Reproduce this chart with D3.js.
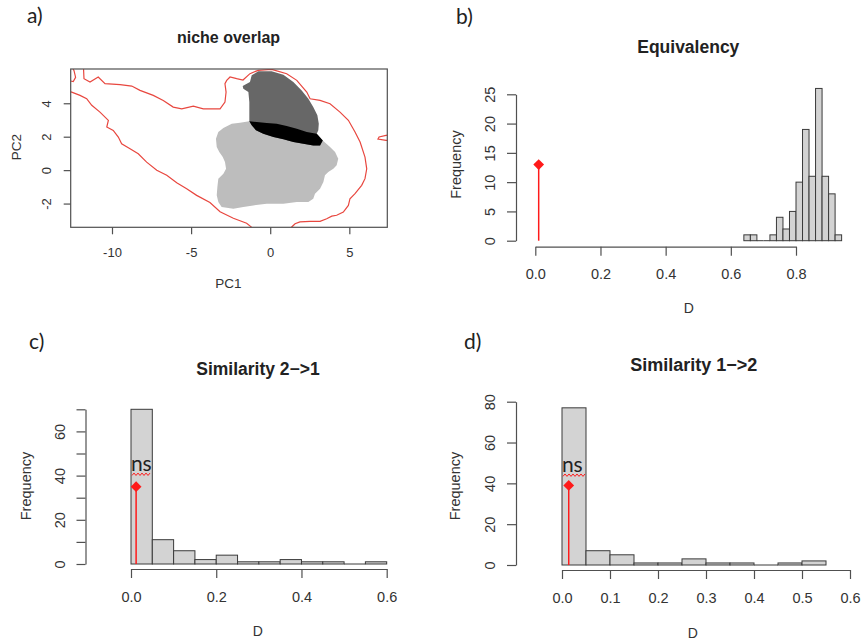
<!DOCTYPE html>
<html>
<head>
<meta charset="utf-8">
<script src="https://cdn.jsdelivr.net/npm/d3@7"></script>
<style>
  body { margin: 0; background: #fff; }
  svg { display: block; font-family: "Liberation Sans", Arial, sans-serif; }
</style>
</head>
<body>
<svg id="fig" width="862" height="640"></svg>
<script>
// ---------------- data ----------------
// a) niche overlap in PC space (polygons as [PC1, PC2])
const envContourUpper = [[-11.81,6.3],[-11.77,5.47],[-11.39,5.27],[-10.87,5.57],[-10.44,5.17],[-9.49,5.11],
  [-8.75,5.03],[-8.23,4.77],[-7.39,4.47],[-6.76,4.17],[-6.13,3.77],[-5.59,3.67],[-4.86,3.83],[-4.23,3.67],
  [-3.60,3.67],[-3.17,3.67],[-2.86,4.07],[-2.79,4.67],[-2.86,5.17],[-2.75,5.37],[-2.54,5.57],[-2.12,5.47],
  [-1.72,5.39],[-1.28,5.77],[-0.77,5.97],[0.09,6.03],[1.04,5.77],[1.68,5.37],[2.31,4.67],[2.52,4.27],
  [3.15,4.17],[3.78,3.97],[4.41,3.47],[4.94,2.98],[5.36,2.28],[5.68,1.68],[5.99,0.78],[6.10,0.08],
  [5.99,-0.51],[5.78,-0.91],[5.36,-1.41],[5.04,-1.71],[4.94,-2.11],[4.62,-2.51],[4.20,-2.70],[3.89,-2.75],
  [3.57,-2.91],[3.15,-3.06],[2.52,-3.06],[1.88,-3.10],[1.57,-3.21],[1.36,-3.40],[1.19,-3.70]];
const envContourLower = [[-12.97,4.79],[-12.55,4.67],[-12.02,4.47],[-11.60,4.27],[-11.28,3.88],[-10.76,3.47],
  [-10.23,2.98],[-10.33,2.58],[-9.92,2.38],[-9.60,1.98],[-9.39,1.58],[-8.86,1.28],[-8.34,0.98],[-7.81,0.48],
  [-7.17,-0.01],[-6.54,-0.31],[-5.91,-0.75],[-5.28,-1.11],[-4.65,-1.51],[-3.81,-1.94],[-3.17,-2.49],
  [-2.33,-2.88],[-1.49,-3.18],[-1.17,-3.42],[-0.96,-3.70]];
const envContourCorner = [[-12.53,6.2],[-12.40,5.95],[-12.30,5.55],[-12.45,5.30],[-12.62,5.33]];
const envContourEdge = [[7.57,2.10],[7.32,2.08],[6.88,1.98],[6.81,1.86],[7.32,1.78],[7.57,1.77]];

const species1Niche = [[-2.43,2.78],[-1.91,2.84],[-1.32,2.92],[-0.85,2.88],[-0.22,2.82],[0.41,2.78],[1.04,2.64],
  [1.68,2.48],[2.31,2.28],[2.94,2.18],[3.32,1.78],[3.78,1.38],[4.10,1.08],[4.30,0.68],[4.20,0.29],[3.99,0.08],
  [3.67,-0.11],[3.46,-0.31],[3.36,-0.71],[3.15,-1.11],[2.83,-1.41],[2.72,-1.71],[2.41,-1.91],[1.68,-1.91],
  [0.83,-2.01],[-0.22,-2.01],[-1.07,-2.11],[-1.70,-2.21],[-2.33,-2.31],[-3.07,-2.21],[-3.28,-1.91],
  [-3.38,-1.51],[-3.34,-1.01],[-3.28,-0.51],[-2.96,-0.22],[-2.79,0.08],[-2.86,0.48],[-3.00,0.78],
  [-3.22,1.08],[-3.38,1.38],[-3.43,1.88],[-3.28,2.28],[-2.96,2.52]];
const species2Niche = [[-1.74,5.03],[-1.28,5.27],[-1.17,5.67],[-0.75,5.91],[0.09,5.91],[0.83,5.71],[1.46,5.27],
  [1.99,4.77],[2.41,4.27],[2.72,3.77],[2.98,3.28],[3.07,2.78],[3.04,2.38],[2.94,2.18],[3.32,1.78],[3.15,1.48],
  [2.72,1.48],[2.09,1.58],[1.46,1.68],[0.83,1.84],[0.20,1.98],[-0.44,2.18],[-0.90,2.38],[-1.17,2.68],
  [-1.32,2.92],[-1.32,4.07],[-1.38,4.67],[-1.70,4.87]];
const nicheOverlap = [[-1.32,2.92],[-0.85,2.88],[-0.22,2.82],[0.41,2.78],[1.04,2.64],[1.68,2.48],[2.31,2.28],
  [2.94,2.18],[3.32,1.78],[3.15,1.48],[2.72,1.48],[2.09,1.58],[1.46,1.68],[0.83,1.84],[0.20,1.98],
  [-0.44,2.18],[-0.90,2.38],[-1.17,2.68]];
const pc1Ticks = [-10, -5, 0, 5];
const pc2Ticks = [-2, 0, 2, 4];

// b) equivalency test: simulated D histogram (bin width 0.02 from 0.64)
const equivBreakStart = 0.64;
const equivBinWidth = 0.02;
const equivCounts = [1, 1, 0, 0, 1, 4, 2, 5, 10, 19, 11, 26, 11, 8, 1];
const equivObserved = 0.0104;
const equivMarkerHeight = 13;
const equivXTicks = [0, 0.2, 0.4, 0.6, 0.8];
const equivYTicks = [0, 5, 10, 15, 20, 25];

// c) similarity 2->1 (bin width 0.05 from 0)
const simBinWidth = 0.05;
const sim21Counts = [70, 11, 6, 2, 4, 1, 1, 2, 1, 1, 0, 1];
const sim21Observed = 0.012;
const sim21MarkerHeight = 35;
const sim21NsLevel = 40.6;
const sim21XTicks = [0, 0.2, 0.4, 0.6];
const sim21YTicks = [0, 10, 20, 30, 40, 50, 60, 70];

// d) similarity 1->2
const sim12Counts = [77, 7, 5, 1, 1, 3, 1, 1, 0, 1, 2];
const sim12Observed = 0.014;
const sim12MarkerHeight = 39;
const sim12NsLevel = 44;
const sim12XTicks = [0, 0.1, 0.2, 0.3, 0.4, 0.5, 0.6];
const sim12YTicks = [0, 20, 40, 60, 80];

// ---------------- drawing ----------------
const svg = d3.select("#fig");
const AXIS = "#505050", INK = "#333", BAR_FILL = "#d3d3d3", BAR_LINE = "#3a3a3a", RED = "#ff1a1a";
const FONT = '"Liberation Sans", Arial, sans-serif';

function bottomAxis(scale, ticks, y, opt) {
  const ext = d3.extent(ticks);
  const s = scale.copy().domain(ext).range(ext.map(scale));
  const g = svg.append("g").attr("transform", `translate(0,${y})`)
    .call(d3.axisBottom(s).tickValues(ticks).tickSize(opt.tick).tickSizeOuter(0).tickFormat(opt.fmt));
  g.attr("font-family", FONT).attr("font-size", opt.fs);
  g.select(".domain").attr("stroke", AXIS).attr("stroke-width", 1.2).style("display", opt.noLine ? "none" : null);
  g.selectAll(".tick line").attr("stroke", AXIS).attr("stroke-width", 1.2);
  g.selectAll(".tick text").attr("y", opt.label).attr("dy", null).attr("fill", INK);
  return g;
}

function leftAxis(scale, ticks, x, opt) {
  const ext = d3.extent(ticks);
  const s = scale.copy().domain(ext).range(ext.map(scale));
  const g = svg.append("g").attr("transform", `translate(${x},0)`)
    .call(d3.axisLeft(s).tickValues(ticks).tickSize(opt.tick).tickSizeOuter(0).tickFormat(opt.fmt));
  g.attr("font-family", FONT).attr("font-size", opt.fs);
  g.select(".domain").attr("stroke", AXIS).attr("stroke-width", 1.2).style("display", opt.noLine ? "none" : null);
  g.selectAll(".tick line").attr("stroke", AXIS).attr("stroke-width", 1.2);
  g.selectAll(".tick text").attr("x", null).attr("dy", null).attr("text-anchor", "middle")
    .attr("fill", INK).attr("transform", `translate(${-opt.label},0) rotate(-90)`);
  return g;
}

function text(str, x, y, o) {
  const t = svg.append("text").attr("x", x).attr("y", y).text(str)
    .attr("font-family", o.family || FONT).attr("font-size", o.fs)
    .attr("font-weight", o.bold ? "bold" : null).attr("fill", o.fill || INK)
    .attr("text-anchor", o.anchor || "middle");
  if (o.rotate) t.attr("transform", `rotate(-90,${x},${y})`);
  return t;
}

function panelLabel(str, x, y) {
  text(str, x, y, { fs: 21, family: 'Lato, "Open Sans", sans-serif', anchor: "start", fill: "#222" });
}

// ---- a) niche overlap ----
const xA = d3.scaleLinear().domain([-12.61, 7.40]).range([70.7, 387.3]);
const yA = d3.scaleLinear().domain([-3.42, 6.05]).range([227.3, 69]);
svg.append("clipPath").attr("id", "clipA").append("rect")
  .attr("x", xA.range()[0]).attr("y", yA.range()[1])
  .attr("width", xA.range()[1] - xA.range()[0]).attr("height", yA.range()[0] - yA.range()[1]);
const lineA = d3.line().x(d => xA(d[0])).y(d => yA(d[1]));
const plotA = svg.append("g").attr("clip-path", "url(#clipA)");
plotA.append("path").attr("d", lineA(species1Niche) + "Z").attr("fill", "#bdbdbd");
plotA.append("path").attr("d", lineA(species2Niche) + "Z").attr("fill", "#676767");
plotA.append("path").attr("d", lineA(nicheOverlap) + "Z").attr("fill", "#000");
[envContourUpper, envContourLower, envContourCorner, envContourEdge].forEach(c =>
  plotA.append("path").attr("d", lineA(c)).attr("fill", "none").attr("stroke", "#e8473f").attr("stroke-width", 1.2));
svg.append("rect").attr("x", xA.range()[0]).attr("y", yA.range()[1])
  .attr("width", xA.range()[1] - xA.range()[0]).attr("height", yA.range()[0] - yA.range()[1])
  .attr("fill", "none").attr("stroke", AXIS).attr("stroke-width", 1.2);
bottomAxis(xA, pc1Ticks, yA.range()[0], { tick: 7, fs: 13, label: 30, fmt: d => String(d), noLine: true });
leftAxis(yA, pc2Ticks, xA.range()[0], { tick: 7, fs: 13, label: 20, fmt: d => String(d), noLine: true });
text("niche overlap", 228.5, 42.5, { fs: 16, bold: true, fill: "#222" });
text("PC1", 228.3, 288.3, { fs: 13.5 });
text("PC2", 20.5, 147, { fs: 13.5, rotate: true });
panelLabel("a)", 27, 23);

// ---- histogram panels ----
function histPanel(p) {
  const bins = p.counts.map((c, i) => ({ x0: p.start + i * p.width, x1: p.start + (i + 1) * p.width, n: c }));
  const g = svg.append("g");
  g.selectAll("rect").data(bins.filter(d => d.n > 0)).join("rect")
    .attr("x", d => p.x(d.x0)).attr("width", d => p.x(d.x1) - p.x(d.x0))
    .attr("y", d => p.y(d.n)).attr("height", d => p.y(0) - p.y(d.n))
    .attr("fill", BAR_FILL).attr("stroke", BAR_LINE).attr("stroke-width", 1);
  // empty bins collapse to a flat outline on the baseline
  g.selectAll("line").data(bins.filter(d => d.n === 0)).join("line")
    .attr("x1", d => p.x(d.x0)).attr("x2", d => p.x(d.x1))
    .attr("y1", p.y(0)).attr("y2", p.y(0))
    .attr("stroke", BAR_LINE).attr("stroke-width", 1);
  bottomAxis(p.x, p.xTicks, p.xAxisY, { tick: 9, fs: p.fs, label: p.xLabelOff, fmt: d3.format(".1f") });
  leftAxis(p.y, p.yTicks, p.yAxisX, { tick: 9, fs: p.fs, label: 21, fmt: p.yFmt || (d => String(d)) });
  // observed value
  svg.append("line").attr("x1", p.x(p.obs)).attr("x2", p.x(p.obs))
    .attr("y1", p.y(0)).attr("y2", p.y(p.obsH)).attr("stroke", RED).attr("stroke-width", 1.5);
  svg.append("path").attr("d", d3.symbol(d3.symbolSquare, 58)())
    .attr("transform", `translate(${p.x(p.obs)},${p.y(p.obsH)}) rotate(45)`).attr("fill", RED);
  if (p.ns !== undefined) {
    const yNs = p.y(p.ns), xs = p.x(0) + 1, xe = p.x(p.width) - 0.5;
    const pts = d3.range(xs, xe, 2).map((x, i) => [x, yNs + (i % 2 ? -1.2 : 1.2)]);
    svg.append("path").attr("d", d3.line()(pts)).attr("fill", "none").attr("stroke", RED).attr("stroke-width", 1);
    text("ns", p.x(0), yNs - 3.5, { fs: 21, family: 'Lato, "Open Sans", sans-serif', anchor: "start", fill: "#222" })
      .attr("letter-spacing", -0.3);
  }
  text(p.title, p.titleX, p.titleY, { fs: p.titleFs, bold: true, fill: "#222" });
  text("D", p.dX, p.dY, { fs: 14 });
  text("Frequency", p.fX, p.fY, { fs: 14.5, rotate: true });
}

// b) Equivalency
histPanel({
  x: d3.scaleLinear().domain([0, 0.8]).range([535.3, 796]),
  y: d3.scaleLinear().domain([0, 25]).range([240.7, 94.3]),
  counts: equivCounts, start: equivBreakStart, width: equivBinWidth,
  xTicks: equivXTicks, yTicks: equivYTicks, xAxisY: 246.7, yAxisX: 516, xLabelOff: 32.5, fs: 14.5,
  obs: equivObserved, obsH: equivMarkerHeight,
  title: "Equivalency", titleX: 688.3, titleY: 52.5, titleFs: 17.5,
  dX: 688.7, dY: 313.3, fX: 461, fY: 164.5
});
panelLabel("b)", 456, 24);

// c) Similarity 2->1
histPanel({
  x: d3.scaleLinear().domain([0, 0.6]).range([131, 386.7]),
  y: d3.scaleLinear().domain([0, 70]).range([564, 409.3]),
  counts: sim21Counts, start: 0, width: simBinWidth,
  xTicks: sim21XTicks, yTicks: sim21YTicks, xAxisY: 569, yAxisX: 85.5, xLabelOff: 33, fs: 14.5,
  yFmt: d => (d % 20 === 0 ? String(d) : ""),
  obs: sim21Observed, obsH: sim21MarkerHeight, ns: sim21NsLevel,
  title: "Similarity 2\u2212>1", titleX: 258, titleY: 375, titleFs: 17.5,
  dX: 257.7, dY: 635.5, fX: 31, fY: 486
});
panelLabel("c)", 29, 349);

// d) Similarity 1->2
histPanel({
  x: d3.scaleLinear().domain([0, 0.6]).range([562, 850]),
  y: d3.scaleLinear().domain([0, 80]).range([565, 401.7]),
  counts: sim12Counts, start: 0, width: simBinWidth,
  xTicks: sim12XTicks, yTicks: sim12YTicks, xAxisY: 570, yAxisX: 516, xLabelOff: 33, fs: 14.5,
  obs: sim12Observed, obsH: sim12MarkerHeight, ns: sim12NsLevel,
  title: "Similarity 1\u2212>2", titleX: 693.8, titleY: 371, titleFs: 18,
  dX: 692.7, dY: 637.5, fX: 460, fY: 486
});
panelLabel("d)", 464, 349);
</script>
</body>
</html>
